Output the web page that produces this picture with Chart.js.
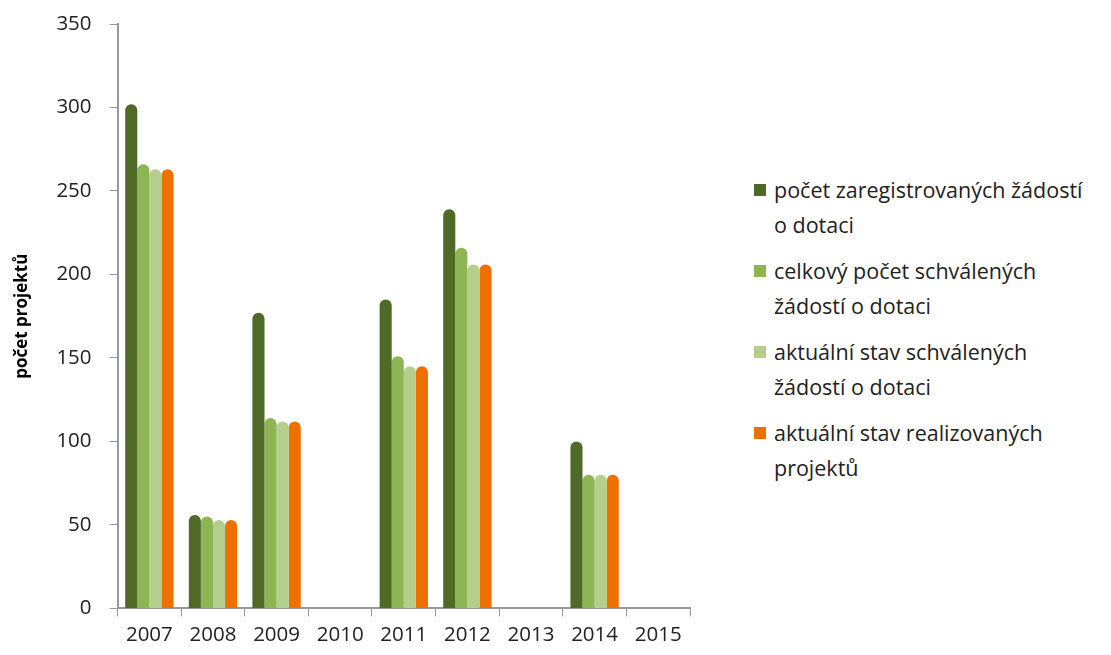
<!DOCTYPE html>
<html>
<head>
<meta charset="utf-8">
<script src="https://cdn.jsdelivr.net/npm/chart.js@4.4.0/dist/chart.umd.min.js"></script>
<style>
  body { margin: 0; background: #fff; font-family: "Open Sans", sans-serif; }
  #wrap { position: absolute; left: 0; top: 0; width: 715px; height: 655px; }
  #legend { position: absolute; left: 754px; top: 172px; color: #222; font-size: 21.5px; }
  .item { display: flex; align-items: flex-start; margin-bottom: 11px; line-height: 35px; }
  .box { width: 12px; height: 12px; margin: 12px 8px 0 0; flex: none; }
</style>
</head>
<body>
<div id="wrap"><canvas id="projectChart"></canvas></div>
<div id="legend"></div>
<script>
const years = ['2007', '2008', '2009', '2010', '2011', '2012', '2013', '2014', '2015'];
const registered = [302, 56, 177, 0, 185, 239, 0, 100, 0];
const approvedTotal = [266, 55, 114, 0, 151, 216, 0, 80, 0];
const approvedNow = [263, 53, 112, 0, 145, 206, 0, 80, 0];
const realized = [263, 53, 112, 0, 145, 206, 0, 80, 0];
const yTicks = [0, 50, 100, 150, 200, 250, 300, 350];

const seriesNames = [
    ['počet zaregistrovaných žádostí', 'o dotaci'],
    ['celkový počet schválených', 'žádostí o dotaci'],
    ['aktuální stav schválených', 'žádostí o dotaci'],
    ['aktuální stav realizovaných', 'projektů']
];
const colors = ['#4e6a26', '#8db554', '#b3cf8b', '#ee7000'];

const ctx = document.getElementById('projectChart').getContext('2d');
const roundTop = { topLeft: 6, topRight: 6, bottomLeft: 0, bottomRight: 0 };

const projectChart = new Chart(ctx, {
    type: 'bar',
    data: {
        labels: years,
        datasets: [registered, approvedTotal, approvedNow, realized].map((vals, i) => ({
            label: seriesNames[i].join(' '),
            data: vals,
            backgroundColor: colors[i],
            borderRadius: roundTop,
            borderSkipped: false,
            barPercentage: 1.0,
            categoryPercentage: 0.76
        }))
    },
    options: {
        responsive: true,
        maintainAspectRatio: false,
        animation: false,
        layout: { padding: { top: 0, right: 25, left: 6, bottom: 2 } },
        plugins: {
            legend: { display: false },
            tooltip: { enabled: false }
        },
        scales: {
            x: {
                grid: { display: true, drawOnChartArea: false, offset: true, tickLength: 8, color: '#999' },
                border: { color: '#999', width: 2 },
                ticks: { color: '#222', font: { family: 'Open Sans', size: 20.5 }, padding: 6 }
            },
            y: {
                min: 0,
                max: 350,
                afterBuildTicks: axis => { axis.ticks = yTicks.map(v => ({ value: v })); },
                afterFit: axis => { axis.paddingTop = 24; },
                grid: { display: true, drawOnChartArea: false, tickLength: 8, color: '#999' },
                border: { color: '#999', width: 2 },
                ticks: { color: '#222', font: { family: 'Open Sans', size: 20.5 }, padding: 18 },
                title: {
                    display: true,
                    text: 'počet projektů',
                    color: '#000',
                    font: { family: 'Open Sans', size: 17, weight: 'bold' },
                    padding: 6
                }
            }
        }
    }
});

// legend with wrapped labels like in the original
const legendEl = document.getElementById('legend');
projectChart.data.datasets.forEach((ds, i) => {
    const item = document.createElement('div');
    item.className = 'item';
    item.innerHTML = '<span class="box" style="background:' + ds.backgroundColor + '"></span><span>' +
        seriesNames[i].join('<br>') + '</span>';
    legendEl.appendChild(item);
});
</script>
</body>
</html>
